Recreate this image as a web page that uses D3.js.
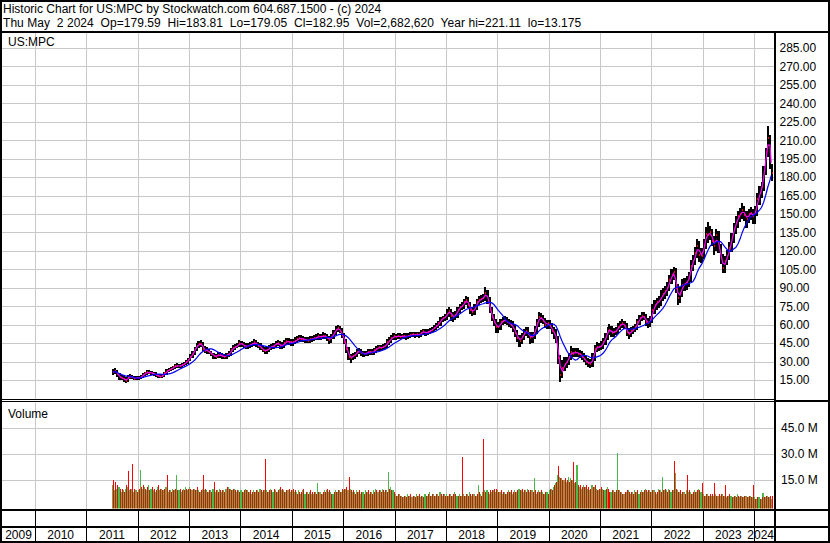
<!DOCTYPE html>
<html>
<head>
<meta charset="utf-8">
<script src="https://cdn.jsdelivr.net/npm/d3@7"></script>
<style>
  html, body { margin: 0; padding: 0; background: #fff; }
  svg { display: block; font-family: "Liberation Sans", Arial, sans-serif; }
  text { white-space: pre; }
</style>
</head>
<body>
<div id="chart"></div>
<script>
// half-monthly bars (1st and 16th of each month), Jul 2011 .. May 2024
const closes = [
  21.5, 22.5, 19.5, 17.0, 16.5, 15.5, 14.5, 17.5, 18.0, 17.0, 16.0, 16.8, // 2011
  16.5, 17.8, 19.2, 20.4, 21.4, 21.0, 20.4, 20.0, 19.0, 18.2, 17.8, 18.6, 20.3, 22.2, 23.3, 24.0, 25.2, 26.4, 26.7, 26.0, 27.3, 28.0, 29.4, 31.4, // 2012
  34.0, 36.5, 40.0, 42.5, 44.0, 44.5, 40.5, 38.5, 39.0, 37.5, 36.0, 34.5, 34.0, 35.5, 35.0, 34.2, 33.8, 35.2, 36.0, 39.0, 41.0, 42.0, 43.0, 45.0, // 2013
  44.0, 43.0, 42.0, 43.0, 43.5, 44.5, 45.5, 44.0, 43.0, 41.0, 39.5, 38.5, 39.5, 41.0, 42.0, 43.0, 44.5, 45.0, 42.5, 43.0, 45.0, 46.5, 46.0, 45.5, // 2014
  45.5, 47.0, 48.0, 49.0, 48.5, 48.0, 47.5, 47.0, 48.0, 48.5, 49.0, 49.5, 50.5, 50.0, 51.0, 50.5, 49.0, 47.5, 50.0, 53.0, 56.0, 57.0, 55.0, 51.5, // 2015
  46.0, 40.0, 34.0, 33.0, 34.5, 35.5, 38.0, 38.5, 37.0, 36.0, 36.5, 37.5, 38.0, 37.0, 39.0, 40.5, 41.5, 41.0, 42.0, 42.5, 45.5, 47.0, 49.0, 50.5, // 2016
  50.0, 51.0, 50.0, 50.5, 51.0, 50.0, 51.0, 51.5, 52.0, 51.5, 52.0, 51.5, 53.5, 54.5, 53.0, 54.0, 55.0, 56.0, 57.5, 59.0, 61.0, 64.0, 65.0, 66.0, // 2017
  69.0, 71.0, 67.0, 66.0, 68.0, 72.0, 74.0, 75.0, 78.0, 80.0, 76.0, 72.0, 70.0, 74.0, 78.0, 80.0, 81.0, 82.0, 86.0, 80.0, 72.0, 66.0, 62.0, 58.0, // 2018
  58.0, 62.0, 63.0, 64.0, 62.0, 61.0, 60.0, 57.0, 53.0, 49.0, 47.0, 50.0, 53.0, 55.0, 52.0, 49.0, 51.0, 55.0, 61.0, 66.0, 65.0, 63.0, 60.0, 61.0, // 2019
  59.0, 55.0, 53.0, 48.0, 33.0, 19.0, 25.0, 28.0, 30.0, 34.0, 38.0, 36.0, 38.0, 36.5, 36.0, 34.0, 32.0, 29.5, 29.0, 28.0, 33.0, 40.0, 42.0, 41.5, // 2020
  43.0, 46.0, 50.0, 55.0, 56.0, 53.0, 54.0, 55.0, 58.0, 60.0, 61.0, 59.0, 54.0, 52.0, 55.0, 56.0, 58.0, 62.0, 65.0, 67.0, 66.0, 62.0, 61.0, 64.0, // 2021
  72.0, 76.0, 78.0, 79.0, 82.0, 85.0, 87.0, 90.0, 96.0, 100.0, 103.0, 90.0, 82.0, 86.0, 92.0, 93.0, 95.0, 98.0, 108.0, 112.0, 118.0, 124.0, 117.0, 116.0, // 2022
  125.0, 134.0, 133.0, 135.0, 128.0, 124.0, 133.0, 122.0, 114.0, 106.0, 112.0, 116.0, 122.0, 131.0, 138.0, 143.0, 148.0, 150.0, 153.0, 149.0, 146.0, 150.0, 151.0, 148.0, // 2023
  152.0, 162.0, 167.0, 172.0, 185.0, 200.0, 212.0, 200.0, 183.0 // 2024
];
const highs = [
  23.5, 24.0, 23.0, 20.0, 18.3, 17.5, 16.6, 18.8, 19.3, 18.7, 17.8, 17.8,
  17.6, 18.6, 20.0, 21.4, 22.4, 22.3, 21.8, 21.4, 20.7, 19.8, 19.1, 19.6, 21.3, 23.2, 24.4, 25.0, 26.3, 27.5, 28.0, 27.6, 28.4, 29.1, 30.6, 32.6,
  35.5, 38.0, 41.8, 44.5, 46.0, 47.0, 45.6, 42.0, 41.0, 40.0, 38.4, 36.8, 35.8, 37.0, 37.0, 36.2, 35.6, 36.8, 37.8, 40.6, 42.8, 43.8, 44.8, 46.8,
  46.6, 45.4, 44.3, 44.6, 45.2, 46.2, 47.5, 47.2, 45.5, 44.5, 42.5, 41.0, 41.2, 42.8, 43.8, 44.6, 46.2, 47.2, 46.4, 45.2, 46.8, 48.5, 48.4, 47.8,
  47.8, 49.2, 50.0, 51.2, 51.0, 50.3, 49.8, 49.2, 50.0, 50.6, 51.2, 51.6, 52.8, 52.3, 53.3, 53.0, 52.2, 50.6, 52.0, 55.0, 58.2, 59.5, 58.8, 56.5,
  53.0, 47.5, 41.5, 36.0, 36.3, 37.3, 39.7, 40.6, 39.9, 38.3, 38.3, 39.4, 39.9, 39.4, 40.8, 42.2, 43.3, 43.0, 43.8, 44.5, 47.5, 49.2, 51.2, 52.4,
  52.3, 53.0, 52.4, 52.3, 52.8, 52.4, 52.8, 53.3, 53.8, 53.6, 53.8, 53.6, 55.4, 56.3, 55.8, 55.8, 56.8, 57.8, 59.2, 60.8, 62.8, 65.8, 67.0, 68.0,
  72.0, 74.0, 72.5, 70.0, 70.5, 74.3, 76.5, 77.9, 80.7, 82.9, 82.0, 78.1, 74.1, 76.3, 80.5, 82.7, 83.5, 84.7, 90.0, 88.1, 82.3, 74.3, 68.0, 64.3,
  62.0, 64.5, 66.0, 66.7, 66.1, 64.3, 63.5, 62.3, 59.3, 55.1, 51.3, 52.5, 55.7, 57.5, 57.3, 53.9, 53.7, 58.5, 63.9, 69.5, 69.1, 67.1, 64.9, 63.7,
  63.5, 61.1, 58.0, 55.7, 50.5, 34.5, 30.5, 33.0, 33.5, 36.7, 42.0, 40.8, 40.9, 40.3, 39.1, 38.1, 36.3, 33.9, 32.5, 31.5, 36.5, 42.9, 45.3, 44.5,
  46.5, 48.9, 52.7, 57.5, 59.7, 58.7, 56.7, 57.7, 60.7, 62.7, 64.3, 62.9, 60.9, 56.5, 57.4, 58.7, 60.5, 64.3, 67.5, 69.7, 69.9, 68.1, 65.1, 66.3,
  76.4, 79.8, 81.6, 83.2, 88.0, 89.6, 91.4, 94.2, 100.2, 104.8, 106.6, 106.0, 93.0, 90.4, 96.6, 97.2, 99.5, 102.8, 112.5, 116.0, 123.0, 129.0, 127.5, 122.0,
  129.5, 139.0, 143.0, 139.5, 137.4, 132.0, 137.5, 136.0, 125.5, 117.4, 115.8, 120.0, 126.6, 134.5, 142.0, 148.0, 152.0, 154.5, 158.4, 156.0, 152.0, 153.8, 155.0, 154.0,
  156.0, 166.5, 172.0, 176.0, 189.0, 203.5, 221.1, 214.0, 190.0
];
const lows = [
  19.8, 20.3, 18.0, 15.3, 15.0, 14.0, 12.8, 14.0, 16.3, 15.8, 15.0, 15.2,
  15.3, 16.0, 17.2, 18.6, 19.8, 20.0, 19.4, 19.0, 18.0, 17.2, 16.7, 17.2, 18.0, 19.7, 21.6, 22.7, 23.3, 24.5, 25.4, 24.9, 25.3, 26.5, 27.2, 28.7,
  30.5, 33.0, 35.6, 39.0, 41.6, 42.6, 39.2, 37.0, 36.8, 36.2, 34.6, 32.8, 32.2, 33.0, 33.4, 32.6, 32.2, 32.8, 34.2, 35.0, 38.0, 40.0, 41.0, 42.0,
  42.2, 41.3, 40.3, 40.5, 41.6, 42.2, 43.3, 42.5, 41.4, 39.5, 37.8, 36.6, 36.8, 38.0, 39.6, 40.8, 41.6, 42.9, 40.5, 40.8, 41.6, 43.7, 44.0, 42.8,
  43.2, 44.3, 45.6, 46.8, 46.6, 46.2, 45.6, 45.2, 45.8, 46.6, 47.1, 47.5, 48.2, 48.2, 48.8, 48.6, 46.8, 45.0, 45.8, 48.6, 51.6, 54.3, 53.2, 49.5,
  44.3, 37.6, 31.8, 29.3, 31.4, 32.8, 34.1, 36.4, 35.2, 34.1, 34.5, 35.2, 35.9, 35.3, 35.5, 37.6, 39.2, 39.1, 39.5, 40.4, 41.0, 43.9, 45.6, 47.5,
  48.3, 48.8, 48.4, 48.5, 49.0, 48.3, 48.6, 49.5, 50.0, 49.8, 50.0, 49.7, 50.0, 52.0, 51.4, 51.6, 52.6, 53.6, 54.7, 56.0, 57.6, 59.5, 62.4, 63.3,
  64.3, 66.7, 63.3, 62.5, 63.9, 65.8, 70.1, 72.0, 73.0, 76.0, 73.6, 69.3, 67.2, 68.0, 72.1, 76.1, 77.7, 78.9, 80.0, 77.5, 69.5, 63.3, 59.1, 53.8,
  53.5, 55.9, 60.1, 61.1, 59.9, 58.3, 57.7, 54.5, 50.7, 46.4, 42.5, 44.8, 48.1, 51.1, 49.8, 44.5, 45.7, 48.7, 53.0, 58.7, 61.7, 60.6, 57.5, 57.1,
  56.7, 53.0, 49.0, 45.3, 28.5, 13.8, 17.0, 22.5, 25.0, 27.7, 32.0, 33.7, 33.8, 33.9, 33.3, 31.8, 29.9, 27.2, 25.7, 25.4, 26.0, 30.9, 38.1, 38.9,
  39.7, 40.9, 44.1, 48.3, 52.1, 50.7, 50.3, 52.0, 53.1, 55.9, 57.9, 56.5, 51.1, 48.8, 50.1, 53.0, 54.3, 56.1, 60.1, 63.1, 63.8, 59.3, 58.0, 58.8,
  61.8, 69.4, 72.6, 73.8, 75.6, 79.4, 81.2, 84.0, 87.4, 93.2, 97.0, 86.4, 76.5, 78.4, 83.0, 87.6, 88.6, 91.4, 94.8, 104.0, 108.5, 115.0, 111.6, 110.4,
  114.0, 122.0, 127.0, 129.0, 124.0, 117.0, 120.0, 119.0, 109.5, 102.0, 102.8, 108.5, 113.2, 119.5, 127.0, 134.5, 139.2, 143.5, 146.0, 144.8, 139.0, 143.0, 145.5, 142.5,
  142.5, 149.0, 158.0, 163.0, 169.0, 182.0, 197.0, 187.0, 177.0
];
// peak daily volume on up days / down days in each half month, millions
const upVolumes = [
  12, 9, 10, 11, 8, 9, 10, 11, 9, 10, 8, 9,
  9, 21, 10, 11, 9, 12, 10, 9, 8, 11, 9, 10, 9, 11, 8, 9, 10, 9, 18, 9, 8, 10, 11, 9,
  11, 9, 10, 9, 9, 8, 10, 9, 9, 8, 9, 10, 8, 9, 10, 8, 9, 10, 11, 10, 9, 10, 8, 9,
  9, 8, 10, 9, 8, 7, 9, 8, 9, 10, 8, 9, 9, 8, 10, 8, 9, 8, 10, 9, 9, 8, 9, 8,
  9, 8, 8, 9, 7, 9, 7, 8, 8, 7, 7, 8, 13, 8, 7, 9, 9, 8, 8, 7, 9, 8, 9, 8,
  9, 10, 9, 10, 8, 8, 9, 8, 7, 8, 9, 8, 7, 8, 9, 10, 8, 9, 10, 8, 9, 19.6, 11, 9,
  7, 6, 7, 6, 5, 6, 7, 6, 5, 6, 7, 6, 5, 6, 7, 6, 8, 6, 7, 6, 7, 8, 6, 7,
  7, 6, 7, 6, 8, 6, 7, 6, 7, 6, 7, 8, 6, 7, 6, 12, 7, 8, 9, 9, 7, 8, 9, 8,
  9, 8, 7, 8, 7, 9, 8, 7, 9, 8, 10, 9, 8, 9, 10, 8, 9, 16, 7, 9, 8, 8, 7, 8,
  9, 10, 11, 13, 18, 17, 16, 15, 14, 17, 16, 15, 13, 23.6, 11, 10, 12, 11, 10, 9, 12, 11, 10, 9,
  10, 10, 9, 11, 9, 8, 9, 8, 30.4, 9, 8, 7, 8, 9, 7, 8, 9, 8, 7, 9, 8, 10, 8, 9,
  8, 9, 7, 10, 9, 17, 9, 9, 10, 8, 9, 19, 9, 8, 7, 8, 9, 8, 8, 7, 9, 8, 10, 8,
  7, 6, 7, 6, 6, 6, 7, 6, 6, 7, 6, 5, 6, 6, 5, 6, 7, 5, 6, 5, 6, 5, 6, 5,
  5, 4, 5, 4, 7.7, 5, 6, 5, 4
];
const downVolumes = [
  15, 14, 12, 10, 10, 8, 12, 20, 10, 24, 10, 8,
  10, 11, 12, 10, 11, 9, 11, 10, 9, 12, 10, 9, 10, 18, 9, 8, 9, 10, 9, 10, 9, 9, 10, 10,
  10, 10, 9, 11, 8, 9, 18, 10, 8, 9, 8, 14, 9, 8, 9, 9, 8, 11, 10, 9, 10, 9, 9, 8,
  8, 9, 9, 8, 9, 8, 8, 9, 8, 9, 9, 27, 8, 9, 9, 10, 8, 9, 11, 10, 8, 9, 10, 9,
  10, 9, 7, 8, 8, 10, 8, 7, 9, 8, 8, 7, 8, 7, 8, 8, 10, 9, 7, 8, 8, 9, 8, 10,
  10, 11, 17, 9, 9, 7, 8, 9, 8, 7, 8, 9, 8, 7, 8, 9, 9, 8, 9, 9, 8, 10, 9, 8,
  6, 7, 6, 5, 6, 5, 6, 7, 6, 5, 6, 7, 6, 5, 6, 7, 6, 7, 6, 7, 6, 7, 7, 6,
  6, 7, 6, 7, 7, 6, 6, 28, 6, 7, 6, 7, 7, 6, 7, 8, 6, 38.6, 8, 8, 9, 9, 10, 10,
  8, 9, 8, 7, 8, 8, 9, 8, 8, 9, 9, 10, 9, 8, 9, 9, 8, 9, 8, 8, 9, 7, 8, 7,
  10, 9, 12, 14, 23, 16, 15, 16, 15, 14, 15, 25.6, 14, 12, 12, 11, 11, 12, 11, 10, 11, 12, 9, 10,
  11, 9, 10, 10, 8, 9, 8, 9, 9, 8, 7, 8, 9, 8, 8, 7, 8, 9, 8, 8, 9, 9, 9, 8,
  9, 8, 8, 9, 8, 9, 10, 8, 9, 9, 26, 10, 8, 9, 8, 7, 18, 9, 7, 8, 8, 9, 9, 13,
  6, 7, 6, 7, 7, 13, 6, 7, 7, 6, 12, 6, 7, 5, 6, 5, 6, 6, 5, 6, 5, 6, 5, 12,
  4, 5, 4, 5, 5, 6, 5, 6, 6
];
const priceTicks = [15, 30, 45, 60, 75, 90, 105, 120, 135, 150, 165, 180, 195, 210, 225, 240, 255, 270, 285];
const volTicks = [15, 30, 45];
const yearLabels = [2009, 2010, 2011, 2012, 2013, 2014, 2015, 2016, 2017, 2018, 2019, 2020, 2021, 2022, 2023, 2024];
const titleLine = "Historic Chart for US:MPC by Stockwatch.com 604.687.1500 - (c) 2024";
const infoLine = "Thu May  2 2024  Op=179.59  Hi=183.81  Lo=179.05  Cl=182.95  Vol=2,682,620  Year hi=221.11  lo=13.175";

const W = 830, H = 543;
const plotL = 2, plotR = 774;
const mainTop = 32.5, mainBot = 399, volTop = 403, volBot = 508.5;

let x = d3.scaleTime().domain([new Date(2009, 3, 27), new Date(2024, 4, 22)]).range([0, 774]);
let y = d3.scaleLinear().domain([0, 298]).range([398.4, 32]);
let yv = d3.scaleLinear().domain([0, 60]).range([506, 402]);

function halfMonth(i) {
  return new Date(2011, 6 + Math.floor(i / 2), i % 2 ? 16 : 1);
}

let bars = closes.map(function (c, i) {
  let d0 = halfMonth(i);
  let d1 = i === closes.length - 1 ? new Date(2024, 4, 3) : halfMonth(i + 1);
  let px0 = Math.round(x(d0)), px1 = Math.max(Math.round(x(d1)), px0 + 2);
  return { d0: d0, d1: d1, px0: px0, px1: px1, mid: new Date((+d0 + +d1) / 2),
           c: c, hi: highs[i], lo: lows[i], upVol: upVolumes[i], downVol: downVolumes[i] };
});

// moving averages of the closes (partial window at the start)
function movingAvg(n) {
  return bars.map(function (b, i) {
    let s = closes.slice(Math.max(0, i - n + 1), i + 1);
    return { d: b.mid, v: d3.mean(s) };
  });
}
let fastMa = movingAvg(2);
let slowMa = movingAvg(9);

let svg = d3.select("#chart").append("svg")
  .attr("width", W).attr("height", H)
  .attr("xml:space", "preserve");

svg.append("rect").attr("width", W).attr("height", H).attr("fill", "#fff");

let defs = svg.append("defs");
defs.append("clipPath").attr("id", "clipMain").append("rect")
  .attr("x", plotL).attr("y", mainTop).attr("width", plotR - plotL).attr("height", mainBot - mainTop);
defs.append("clipPath").attr("id", "clipVol").append("rect")
  .attr("x", plotL).attr("y", volTop).attr("width", plotR - plotL).attr("height", volBot - volTop);

// header text
svg.append("text").attr("x", 3).attr("y", 12.5).attr("font-size", 12).attr("fill", "#000").text(titleLine);
svg.append("text").attr("x", 3).attr("y", 26.5).attr("font-size", 12).attr("fill", "#000")
  .attr("letter-spacing", 0.05).text(infoLine);

// grid
let grid = svg.append("g").attr("stroke", "#c8c8c8").attr("stroke-width", 1).attr("shape-rendering", "crispEdges");
let yearStarts = yearLabels.slice(1).map(yr => new Date(yr, 0, 1));
yearStarts.forEach(function (d) {
  let xx = Math.round(x(d)) + 0.5;
  grid.append("line").attr("x1", xx).attr("x2", xx).attr("y1", mainTop).attr("y2", mainBot);
  grid.append("line").attr("x1", xx).attr("x2", xx).attr("y1", volTop).attr("y2", volBot);
});
priceTicks.forEach(function (v) {
  let yy = Math.round(y(v)) + 0.5;
  grid.append("line").attr("x1", plotL).attr("x2", plotR).attr("y1", yy).attr("y2", yy);
});
volTicks.forEach(function (v) {
  let yy = Math.round(yv(v)) + 0.5;
  grid.append("line").attr("x1", plotL).attr("x2", plotR).attr("y1", yy).attr("y2", yy);
});

// price bars
let main = svg.append("g").attr("clip-path", "url(#clipMain)");
main.append("g").attr("shape-rendering", "crispEdges").selectAll("rect").data(bars).join("rect")
  .attr("x", d => d.px0)
  .attr("width", d => d.px1 - d.px0)
  .attr("y", d => y(d.hi) - 0.5)
  .attr("height", d => Math.max(2, y(d.lo) - y(d.hi) + 1))
  .attr("fill", "#000");
main.append("g").attr("shape-rendering", "crispEdges").selectAll("rect").data(bars).join("rect")
  .attr("x", d => d.px1 - 1)
  .attr("width", 1)
  .attr("y", d => Math.round(y(d.c)) - 1)
  .attr("height", 2)
  .attr("fill", "#ff0000");

let line = d3.line().x(d => x(d.d)).y(d => y(d.v));
main.append("path").datum(fastMa).attr("d", line)
  .attr("fill", "none").attr("stroke", "#ff00ff").attr("stroke-width", 1.2);
main.append("path").datum(slowMa).attr("d", line)
  .attr("fill", "none").attr("stroke", "#0000ff").attr("stroke-width", 1.2);

// volume bars: up-day peak in the left columns, down-day peak in the last column
let vol = svg.append("g").attr("clip-path", "url(#clipVol)").attr("shape-rendering", "crispEdges");
vol.append("g").selectAll("rect").data(bars).join("rect")
  .attr("x", d => d.px0)
  .attr("width", d => d.px1 - d.px0 - 1)
  .attr("y", d => yv(d.upVol))
  .attr("height", d => volBot - yv(d.upVol))
  .attr("fill", "#4cb84c");
vol.append("g").selectAll("rect").data(bars).join("rect")
  .attr("x", d => d.px1 - 1)
  .attr("width", 1)
  .attr("y", d => yv(d.downVol))
  .attr("height", d => volBot - yv(d.downVol))
  .attr("fill", "#ff0000");

// panel labels
svg.append("text").attr("x", 8).attr("y", 46).attr("font-size", 12).attr("fill", "#000").text("US:MPC");
svg.append("text").attr("x", 8).attr("y", 417.5).attr("font-size", 12).attr("fill", "#000").text("Volume");

// right axis labels
svg.append("g").selectAll("text").data(priceTicks).join("text")
  .attr("x", 779.5).attr("y", d => y(d)).attr("dy", "0.36em")
  .attr("font-size", 12).attr("fill", "#000")
  .text(d => d3.format(".2f")(d));
svg.append("g").selectAll("text").data(volTicks).join("text")
  .attr("x", 781).attr("y", d => yv(d)).attr("dy", "0.36em")
  .attr("font-size", 12).attr("fill", "#000")
  .text(d => d3.format(".1f")(d) + " M");

// frame
let frame = svg.append("g").attr("stroke", "#000").attr("shape-rendering", "crispEdges");
frame.append("rect").attr("x", 1).attr("y", 1).attr("width", W - 2).attr("height", H - 2)
  .attr("fill", "none").attr("stroke-width", 2);
frame.append("line").attr("x1", 0).attr("x2", W).attr("y1", 31.5).attr("y2", 31.5).attr("stroke-width", 2);
frame.append("line").attr("x1", 0).attr("x2", plotR).attr("y1", 399.5).attr("y2", 399.5).attr("stroke-width", 1);
frame.append("line").attr("x1", 0).attr("x2", plotR).attr("y1", 401.5).attr("y2", 401.5).attr("stroke-width", 1);
frame.append("line").attr("x1", plotR).attr("x2", W).attr("y1", 400.5).attr("y2", 400.5).attr("stroke-width", 2);
frame.append("line").attr("x1", 0).attr("x2", W).attr("y1", 509.5).attr("y2", 509.5).attr("stroke-width", 2);
frame.append("line").attr("x1", 0).attr("x2", W).attr("y1", 526.5).attr("y2", 526.5).attr("stroke-width", 2);
frame.append("line").attr("x1", 774.5).attr("x2", 774.5).attr("y1", 31).attr("y2", H).attr("stroke-width", 2);
yearStarts.forEach(function (d) {
  let xx = Math.round(x(d)) + 0.5;
  frame.append("line").attr("x1", xx).attr("x2", xx).attr("y1", 510).attr("y2", 542).attr("stroke-width", 1.5);
});

// year labels, centred in the visible part of each year
let yearG = svg.append("g");
yearLabels.forEach(function (yr) {
  let a = Math.max(plotL, x(new Date(yr, 0, 1)));
  let b = Math.min(plotR, x(new Date(yr + 1, 0, 1)));
  let t = yearG.append("text").attr("y", 539).attr("font-size", 12).attr("fill", "#000").text(yr);
  let w = t.node().getComputedTextLength();
  let cx = (a + b) / 2;
  cx = Math.min(cx, plotR - w / 2);
  cx = Math.max(cx, plotL + 1 + w / 2);
  t.attr("x", cx).attr("text-anchor", "middle");
});
</script>
</body>
</html>
